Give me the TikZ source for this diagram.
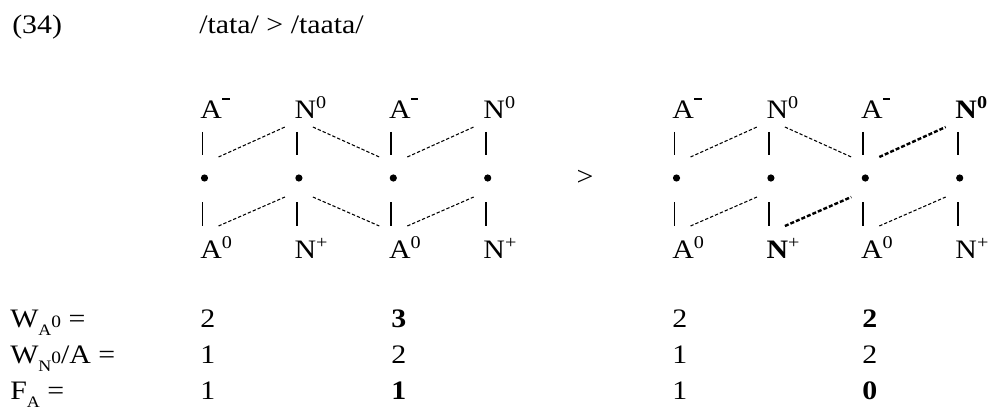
\documentclass[tikz,border=0pt]{standalone}
\usepackage{fontspec}
\setmainfont[FakeStretch=1.12]{Liberation Serif}
\usetikzlibrary{calc}

\newcommand{\bigtxt}{\fontsize{20}{20}\selectfont}
\newcommand{\hi}[1]{\raisebox{7pt}{\fontsize{13.5}{13.5}\selectfont #1}}
\newcommand{\lo}[1]{\raisebox{-6.5pt}{\fontsize{12}{12}\selectfont #1}}
\newcommand{\sm}[1]{{\fontsize{13}{13}\selectfont #1}}
\newcommand{\dsh}{\hspace{0.3pt}\rule[13.2pt]{5.5pt}{2pt}}

\begin{document}
\begin{tikzpicture}[
  x=0.75pt, y=-0.75pt,
  node distance=70.8pt,
  seg/.style={inner sep=0pt, anchor=base west, font=\bigtxt},
  cell/.style={inner sep=0pt, anchor=base west, font=\bigtxt},
  mora/.style={circle, fill=black, inner sep=0pt, minimum size=5.4pt},
  vbar/.style={line width=1.4pt},
  link/.style={dash pattern=on 2.5pt off 1.5pt, line width=0.8pt},
  boldlink/.style={dash pattern=on 3pt off 1.5pt, line width=1.8pt}
]
  \useasboundingbox (0,0) rectangle (990,410);

  % heading
  \node[cell] (num) at (12,34) {(34)};
  \node[cell] (ex) at (199,34) {/tata/ > /taata/};

  % left form: moras
  \node[mora] (l1) at (204.5,178) {};
  \node[mora, right of=l1] (l2) {};
  \node[mora, right of=l2] (l3) {};
  \node[mora, right of=l3] (l4) {};

  \node[seg] (lt1) at ($(l1)+(-4.5,-60)$) {A\dsh};
  \node[seg] (lt2) at ($(l2)+(-4.5,-60)$) {N\hi{0}};
  \node[seg] (lt3) at ($(l3)+(-4.5,-60)$) {A\dsh};
  \node[seg] (lt4) at ($(l4)+(-4.5,-60)$) {N\hi{0}};
  \node[seg] (lb1) at ($(l1)+(-4.5,80)$) {A\hi{0}};
  \node[seg] (lb2) at ($(l2)+(-4.5,80)$) {N\hi{+}};
  \node[seg] (lb3) at ($(l3)+(-4.5,80)$) {A\hi{0}};
  \node[seg] (lb4) at ($(l4)+(-4.5,80)$) {N\hi{+}};

  \node[font=\bigtxt] (gt) at (585,178) {>};

  % right form: moras
  \node[mora] (r1) at (676.5,178) {};
  \node[mora, right of=r1] (r2) {};
  \node[mora, right of=r2] (r3) {};
  \node[mora, right of=r3] (r4) {};

  \node[seg] (rt1) at ($(r1)+(-4.5,-60)$) {A\dsh};
  \node[seg] (rt2) at ($(r2)+(-4.5,-60)$) {N\hi{0}};
  \node[seg] (rt3) at ($(r3)+(-4.5,-60)$) {A\dsh};
  \node[seg] (rt4) at ($(r4)+(-4.5,-60)$) {\bfseries N\hi{0}};
  \node[seg] (rb1) at ($(r1)+(-4.5,80)$) {A\hi{0}};
  \node[seg] (rb2) at ($(r2)+(-4.5,80)$) {{\bfseries N}\hi{+}};
  \node[seg] (rb3) at ($(r3)+(-4.5,80)$) {A\hi{0}};
  \node[seg] (rb4) at ($(r4)+(-4.5,80)$) {N\hi{+}};

  % association lines
  \foreach \m in {l1,l2,l3,l4,r1,r2,r3,r4}
    \draw[vbar] ($(\m)+(-2,-46)$) -- ($(\m)+(-2,-23)$)
                ($(\m)+(-2,24)$) -- ($(\m)+(-2,48)$);

  \draw[link] ($(l1)+(14,-21)$) -- ($(l2)+(-14,-51)$);
  \draw[link] ($(l2)+(14,-51)$) -- ($(l3)+(-14,-21)$);
  \draw[link] ($(l3)+(14,-21)$) -- ($(l4)+(-14,-51)$);
  \draw[link] ($(l1)+(14,48)$) -- ($(l2)+(-14,19)$);
  \draw[link] ($(l2)+(14,19)$) -- ($(l3)+(-14,48)$);
  \draw[link] ($(l3)+(14,48)$) -- ($(l4)+(-14,19)$);

  \draw[link] ($(r1)+(14,-21)$) -- ($(r2)+(-14,-51)$);
  \draw[link] ($(r2)+(14,-51)$) -- ($(r3)+(-14,-21)$);
  \draw[boldlink] ($(r3)+(14,-21)$) -- ($(r4)+(-14,-51)$);
  \draw[link] ($(r1)+(14,48)$) -- ($(r2)+(-14,19)$);
  \draw[boldlink] ($(r2)+(14,48)$) -- ($(r3)+(-14,19)$);
  \draw[link] ($(r3)+(14,48)$) -- ($(r4)+(-14,19)$);

  % constraint table
  \node[cell] (wa) at (10,327) {W\lo{A}\sm{0} =};
  \node[cell] (wn) at (10,363) {W\lo{N}\sm{0}/A =};
  \node[cell] (fa) at (10,399) {F\lo{A} =};

  \node[cell] (wa1) at (200,327) {2};
  \node[cell] (wa2) at (391,327) {\bfseries 3};
  \node[cell] (wa3) at (672,327) {2};
  \node[cell] (wa4) at (862,327) {\bfseries 2};
  \node[cell] (wn1) at (200,363) {1};
  \node[cell] (wn2) at (391,363) {2};
  \node[cell] (wn3) at (672,363) {1};
  \node[cell] (wn4) at (862,363) {2};
  \node[cell] (fa1) at (200,399) {1};
  \node[cell] (fa2) at (391,399) {\bfseries 1};
  \node[cell] (fa3) at (672,399) {1};
  \node[cell] (fa4) at (862,399) {\bfseries 0};
\end{tikzpicture}
\end{document}
